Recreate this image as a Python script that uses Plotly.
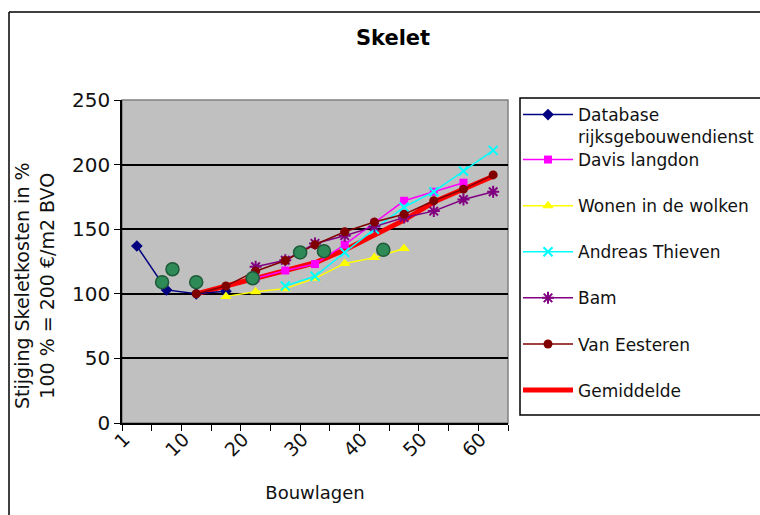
import numpy as np
import plotly.graph_objects as go

categories = [1, 5, 10, 15, 20, 25, 30, 35, 40, 45, 50, 55, 60]
tick_labels = ["1", "10", "20", "30", "40", "50", "60"]
tick_label_cats = [1, 10, 20, 30, 40, 50, 60]

database = [137, 103, 100, 102, None, None, None, None, None, None, None, None, None]
davis = [None, None, None, None, 112, 118, 123, 138, 155, 172, 179, 186, None]
wonen = [None, None, None, 98, 101.5, 104, 112, 123.5, 128, 135, None, None, None]
andreas = [None, None, None, None, None, 106, 113.6, 132, 150, 167, 179, 195, 211]
bam = [None, None, None, None, 121, 126, 139, 145, 152, 159, 164, 173, 179]
vaneesteren = [None, None, 100, 106, 117.5, 125.8, 138, 148, 155.5, 161.5, 172, 181, 192]
gemiddelde = [None, None, 100, 106, 111.5, 118.5, 124, 134, 145, 157, 171, 181, 191]

green_bouwlagen = [4.4, 6, 10, 19.5, 27.5, 31.5, 41.5]
green_values = [109, 119, 109, 112, 132, 133, 134]

idx = list(range(len(categories)))
green_x = np.interp(green_bouwlagen, categories, idx)
# Excel places the rotated labels a little left of the category centre
label_pos = [categories.index(c) - 0.42 for c in tick_label_cats]

FONT = "DejaVu Sans"
fig = go.Figure()

fig.add_trace(go.Scatter(x=idx, y=gemiddelde, name="Gemiddelde", mode="lines",
                         line=dict(color="#FF0000", width=5), legend="legend2",
                         legendgroup="g7", legendrank=7))

series = [
    ("Database<br>rijksgebouwendienst", database, "#000080", "diamond", 9, "legend", 1),
    ("Davis langdon", davis, "#FF00FF", "square", 8, "legend2", 2),
    ("Wonen in de wolken", wonen, "#FFFF00", "triangle-up", 10, "legend2", 3),
    ("Andreas Thieven", andreas, "#00FFFF", "x-thin-open", 9, "legend2", 4),
    ("Bam", bam, "#800080", "asterisk-open", 10, "legend2", 5),
    ("Van Eesteren", vaneesteren, "#800000", "circle", 9, "legend2", 6),
]
for name, vals, col, sym, size, leg, rank in series:
    mk = dict(color=col, symbol=sym, size=size)
    if sym.endswith("open"):
        mk["line"] = dict(color=col, width=2)
    fig.add_trace(go.Scatter(x=idx, y=vals, name=name, mode="lines+markers",
                             line=dict(color=col, width=1.5), marker=mk,
                             legend=leg, legendgroup="g%d" % rank, legendrank=rank))

fig.add_trace(go.Scatter(x=green_x, y=green_values, mode="markers", showlegend=False,
                         marker=dict(color="#2E8B57", size=13,
                                     line=dict(color="#1E5A3A", width=1.5))))

L, R, T, B = 122, 252, 100, 92
W, H = 760, 515
pw, ph = W - L - R, H - T - B

def px(x):
    return (x - L) / pw

def py(y):
    return (H - B - y) / ph

shapes = [
    dict(type="rect", xref="paper", yref="paper", x0=0, x1=1, y0=0, y1=1,
         line=dict(color="#808080", width=1.5), layer="below"),
    dict(type="line", xref="paper", yref="paper", x0=px(9), x1=px(770), y0=py(12), y1=py(12),
         line=dict(color="black", width=1.5)),
    dict(type="line", xref="paper", yref="paper", x0=px(9), x1=px(9), y0=py(12), y1=py(530),
         line=dict(color="black", width=1.5)),
    dict(type="rect", xref="paper", yref="paper", x0=px(520), x1=px(800), y0=py(415), y1=py(98),
         line=dict(color="black", width=1.5)),
]

annotations = [
    dict(text="Stijging Skeletkosten in %<br>100 % = 200 €/m2 BVO", textangle=-90,
         xref="paper", yref="paper", x=px(34), y=py(286), xanchor="center", yanchor="middle",
         showarrow=False, font=dict(size=19, family=FONT, color="#111111")),
]

fig.update_layout(
    width=W, height=H,
    margin=dict(l=L, r=R, t=T, b=B, autoexpand=False),
    paper_bgcolor="white", plot_bgcolor="#C0C0C0",
    font=dict(family=FONT, color="#111111"),
    title=dict(text="<b>Skelet</b>", x=393 / W, xanchor="center", y=1 - 38 / H, yanchor="middle",
               font=dict(size=21, family=FONT, color="black")),
    xaxis=dict(range=[-0.5, 12.5], tickmode="array", tickvals=label_pos, ticktext=tick_labels,
               tickangle=-45, ticks="", showgrid=False, zeroline=False,
               showline=True, linecolor="black", linewidth=1.5,
               tickfont=dict(size=19, family=FONT), ticklabelstandoff=-4,
               minor=dict(tickmode="array", tickvals=[i - 0.5 for i in range(14)],
                          ticks="outside", ticklen=6, tickcolor="black", tickwidth=1.2, showgrid=False),
               title=dict(text="Bouwlagen", font=dict(size=18, family=FONT), standoff=27)),
    yaxis=dict(range=[0, 250], dtick=50, ticks="outside", ticklen=6, tickcolor="black",
               showgrid=True, gridcolor="black", gridwidth=1.5, zeroline=False,
               showline=True, linecolor="black", linewidth=1.5,
               tickfont=dict(size=20, family=FONT)),
    legend=dict(x=px(518), xanchor="left", y=py(97), yanchor="top",
                bgcolor="rgba(0,0,0,0)", borderwidth=0, valign="top",
                font=dict(size=17, family=FONT), itemwidth=50),
    legend2=dict(x=px(518), xanchor="left", y=py(142), yanchor="top",
                 bgcolor="rgba(0,0,0,0)", borderwidth=0, tracegroupgap=21,
                 font=dict(size=17, family=FONT), itemwidth=50),
    shapes=shapes,
    annotations=annotations,
)

fig.write_html("out.html")
